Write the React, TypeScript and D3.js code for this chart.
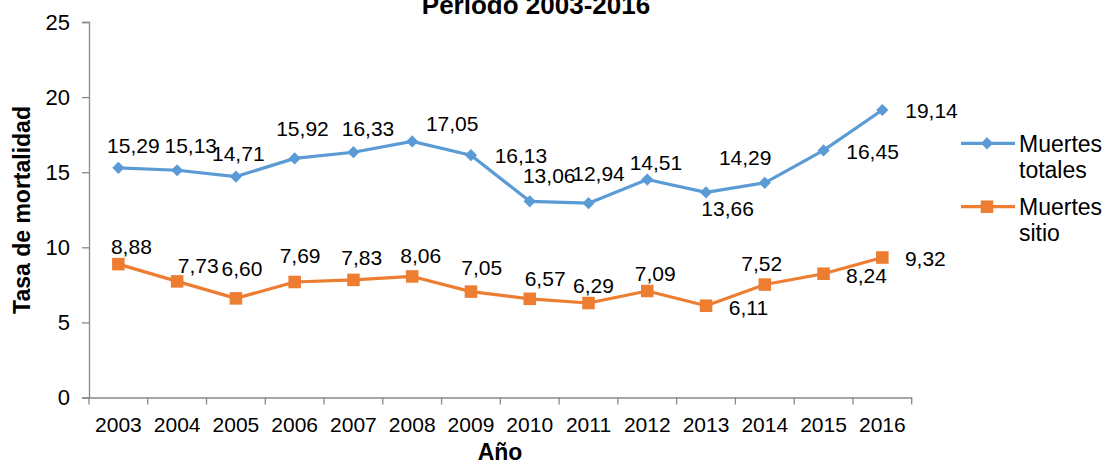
import React, { useEffect, useRef } from 'react';
import * as d3 from 'd3';

const years = ['2003', '2004', '2005', '2006', '2007', '2008', '2009', '2010', '2011', '2012', '2013', '2014', '2015', '2016'];
const muertesTotales = [15.29, 15.13, 14.71, 15.92, 16.33, 17.05, 16.13, 13.06, 12.94, 14.51, 13.66, 14.29, 16.45, 19.14];
const muertesSitio = [8.88, 7.73, 6.6, 7.69, 7.83, 8.06, 7.05, 6.57, 6.29, 7.09, 6.11, 7.52, 8.24, 9.32];
const yTicks = [0, 5, 10, 15, 20, 25];

// desplazamiento de cada etiqueta (centro) respecto a su punto
const offsetsTotales = [[15, -22], [13.6, -25], [2.4, -23], [7.8, -30], [14.6, -23.6], [40, -18], [50, 0.4], [19.5, -25.6], [10, -29], [8.7, -17], [21.6, 16], [-19.6, -25.7], [49, 1.5], [49.2, 0.8]];
const offsetsSitio = [[13, -17], [21, -15.5], [6, -29.5], [5.4, -26], [8.3, -22.5], [8.5, -21], [10.8, -24], [15.4, -20], [5, -17], [8, -17], [42.4, 1.7], [-3, -21], [43, 1.7], [43, 1]];

const BLUE = '#5B9BD5';
const ORANGE = '#ED7D31';
const AXIS = '#898989';
const FONT = 'Liberation Sans, Arial, sans-serif';

export default function App() {
  const svgRef = useRef<SVGSVGElement>(null);
  const width = 1109;
  const height = 465;

  useEffect(() => {
    const svg = d3.select(svgRef.current);
    svg.selectAll('*').remove();
    svg.attr('width', width).attr('height', height);

    const x = d3.scaleBand().domain(years).range([89, 911.7]).padding(0);
    const y = d3.scaleLinear().domain([0, 25]).range([397.5, 22]);
    const cx = (i: number) => (x(years[i]) as number) + x.bandwidth() / 2;

    // titulo (cortado arriba)
    svg.append('text')
      .attr('x', 536).attr('y', 14)
      .attr('text-anchor', 'middle')
      .attr('font-family', FONT).attr('font-weight', 'bold').attr('font-size', 26)
      .text('Periodo 2003-2016');

    // eje y
    const yAxis = svg.append('g').attr('transform', 'translate(89,0)')
      .call(d3.axisLeft(y).tickValues(yTicks).tickSize(7).tickPadding(12).tickFormat(d3.format('d')));
    yAxis.select('.domain').attr('stroke', AXIS).attr('stroke-width', 1.3);
    yAxis.selectAll('.tick line').attr('stroke', AXIS).attr('stroke-width', 1.3);
    yAxis.selectAll('.tick text').attr('font-family', FONT).attr('font-size', 22).attr('fill', '#000');

    // eje x
    const xAxis = svg.append('g').attr('transform', 'translate(0,397.5)')
      .call(d3.axisBottom(x).tickSize(0).tickPadding(20));
    xAxis.select('.domain').attr('stroke', AXIS).attr('stroke-width', 1.3);
    xAxis.selectAll('.tick text').attr('font-family', FONT).attr('font-size', 21).attr('fill', '#000');
    xAxis.selectAll('line.sep')
      .data(d3.range(years.length + 1))
      .enter().append('line')
      .attr('class', 'sep')
      .attr('x1', (i) => 89 + i * x.step()).attr('x2', (i) => 89 + i * x.step())
      .attr('y1', 0).attr('y2', 7)
      .attr('stroke', AXIS).attr('stroke-width', 1.3);

    // titulos de ejes
    svg.append('text')
      .attr('transform', 'translate(30,210) rotate(-90)')
      .attr('text-anchor', 'middle')
      .attr('font-family', FONT).attr('font-weight', 'bold').attr('font-size', 23)
      .text('Tasa de mortalidad');
    svg.append('text')
      .attr('x', 500).attr('y', 460)
      .attr('text-anchor', 'middle')
      .attr('font-family', FONT).attr('font-weight', 'bold').attr('font-size', 23)
      .text('Año');

    const line = d3.line<number>().x((_, i) => cx(i)).y((d) => y(d));
    const fmt = (d: number) => d.toFixed(2).replace('.', ',');
    const markerPath = (m: string) => d3.symbol()
      .type(m === 'diamond' ? d3.symbolDiamond2 : d3.symbolSquare2)
      .size(m === 'diamond' ? 95 : 200)();

    const drawSeries = (data: number[], color: string, marker: string, offsets: number[][]) => {
      const g = svg.append('g');
      g.append('path').datum(data)
        .attr('d', line).attr('fill', 'none')
        .attr('stroke', color).attr('stroke-width', 3.2).attr('stroke-linejoin', 'round');
      g.selectAll('path.mk').data(data).enter().append('path')
        .attr('class', 'mk')
        .attr('d', markerPath(marker))
        .attr('transform', (d, i) => `translate(${cx(i)},${y(d)})`)
        .attr('fill', color);
      g.selectAll('text').data(data).enter().append('text')
        .attr('x', (_, i) => cx(i) + offsets[i][0])
        .attr('y', (d, i) => y(d) + offsets[i][1])
        .attr('dy', '0.35em')
        .attr('text-anchor', 'middle')
        .attr('font-family', FONT).attr('font-size', 21).attr('fill', '#000')
        .text((d) => fmt(d));
    };

    drawSeries(muertesTotales, BLUE, 'diamond', offsetsTotales);
    drawSeries(muertesSitio, ORANGE, 'square', offsetsSitio);

    // leyenda
    const legend = [
      { lines: ['Muertes', 'totales'], color: BLUE, marker: 'diamond', y: 143.3 },
      { lines: ['Muertes', 'sitio'], color: ORANGE, marker: 'square', y: 206.7 },
    ];
    legend.forEach((it) => {
      const g = svg.append('g');
      g.append('line').attr('x1', 961).attr('x2', 1015).attr('y1', it.y).attr('y2', it.y)
        .attr('stroke', it.color).attr('stroke-width', 3.2);
      g.append('path').attr('d', markerPath(it.marker))
        .attr('transform', `translate(987,${it.y})`)
        .attr('fill', it.color);
      it.lines.forEach((t, k) => {
        g.append('text').attr('x', 1019).attr('y', it.y + 8.4 + k * 26.3)
          .attr('font-family', FONT).attr('font-size', 23).attr('fill', '#000')
          .text(t);
      });
    });
  }, []);

  return (
    <svg ref={svgRef} style={{ position: 'absolute', left: 0, top: 0, background: '#fff' }}></svg>
  );
}
